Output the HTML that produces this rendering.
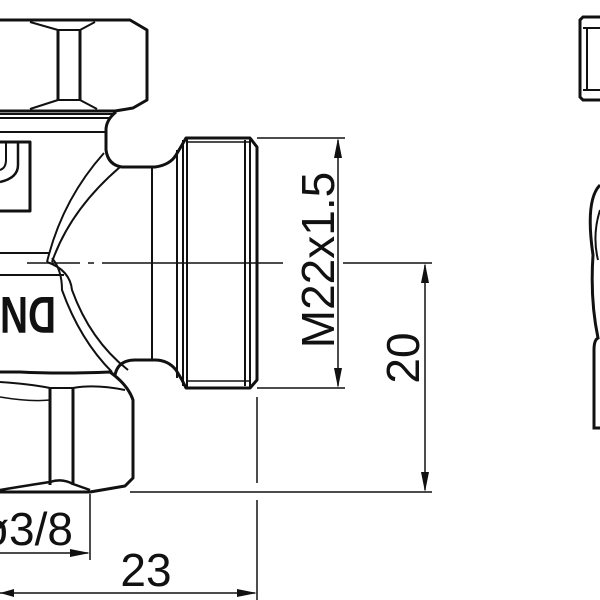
<!DOCTYPE html>
<html><head><meta charset="utf-8"><style>html,body{margin:0;padding:0;background:#fff}svg{display:block}</style></head>
<body>
<svg width="600" height="600" viewBox="0 0 600 600" xmlns="http://www.w3.org/2000/svg" font-family="Liberation Sans, sans-serif">
<g fill="none" stroke="#111" stroke-width="3" stroke-linejoin="round">
<!-- top nut -->
<path d="M0 20 L130 20 L147 30 L147 100 L133 108 L115 111 L0 111"/>
<path d="M30 22 L58 30 L80 30 L95 22" stroke-width="2"/>
<path d="M30 109 L58 100 L80 100 L97 109" stroke-width="2"/>
<line x1="58" y1="30" x2="58" y2="100"/><line x1="80" y1="30" x2="80" y2="100"/>
<line x1="0" y1="114" x2="114" y2="114" stroke-width="2"/>
<line x1="0" y1="118" x2="110" y2="118" stroke-width="2"/>
<line x1="0" y1="132" x2="105" y2="132" stroke-width="2"/>
<!-- body top -->
<path d="M116 112 Q106 120 106 130 L106 150 Q108 165 122 167 L155 167 Q170 165 176 155 L182 145 L186 138 L250 138 L257 147 L257 380 L250 388 L186 388 L182 380 L176 370 Q168 360 155 360 L135 360 Q118 360 115 375"/>
<line x1="152" y1="168" x2="152" y2="360" stroke-width="2"/>
<line x1="177" y1="150" x2="177" y2="378" stroke-width="2"/>
<line x1="183" y1="140" x2="183" y2="386" stroke-width="2"/>
<line x1="187" y1="138" x2="187" y2="388" stroke-width="2"/>
<line x1="245" y1="140" x2="245" y2="386" stroke-width="2"/>
<line x1="250" y1="138" x2="250" y2="388" stroke-width="2"/>
<line x1="187" y1="142" x2="250" y2="142" stroke-width="1.5"/>
<line x1="187" y1="381" x2="250" y2="381" stroke-width="1.5"/>
<!-- diagonal body curves -->
<path d="M104 153 Q62 200 47 262" stroke-width="2"/>
<path d="M120 167 Q70 210 52 262" stroke-width="2"/>
<path d="M47 262 Q70 270 72 290 Q90 340 128 370" stroke-width="2"/>
<path d="M52 258 Q62 270 62 290 Q80 340 112 372" stroke-width="2"/>
<line x1="0" y1="253" x2="50" y2="253" stroke-width="2"/>
<line x1="0" y1="275" x2="64" y2="275" stroke-width="2"/>
<!-- icon -->
<path d="M0 142 L30 142 L30 211 L0 211" stroke-width="3"/>
<path d="M18 143 L18 165 Q18 178 0 182" stroke-width="2.5"/>
<path d="M6 143 L6 160 Q6 168 0 170" stroke-width="2"/>
<!-- bottom nut -->
<path d="M0 372 L20 372 Q60 374 110 372 Q128 385 133 400 L133 478 L125 486 L90 492 L0 492"/>
<path d="M0 382 Q30 384 50 388 L73 388 Q95 384 125 390" stroke-width="2"/>
<path d="M0 397 Q30 402 50 400" stroke-width="1.5"/>
<line x1="50" y1="388" x2="50" y2="485"/><line x1="73" y1="388" x2="73" y2="485"/>
<path d="M0 490 Q30 485 50 482 Q62 478 73 484 L90 490" stroke-width="2.5"/>
</g>
<!-- DN -->
<text x="0" y="347" font-size="52" font-weight="bold" fill="#111" transform="rotate(180 28 322)" textLength="56" lengthAdjust="spacingAndGlyphs">DN</text>
<!-- centre line -->
<g stroke="#111" stroke-width="1.5" fill="none">
<line x1="27" y1="263" x2="80" y2="263"/>
<line x1="88" y1="263" x2="94" y2="263"/>
<line x1="102" y1="263" x2="283" y2="263"/>
<line x1="343" y1="263" x2="432" y2="263"/>
<line x1="257" y1="138" x2="345" y2="138"/>
<line x1="257" y1="388" x2="345" y2="388"/>
<line x1="338" y1="140" x2="338" y2="386"/>
<line x1="425" y1="265" x2="425" y2="490"/>
<line x1="130" y1="492" x2="432" y2="492"/>
<line x1="257" y1="397" x2="257" y2="483"/>
<line x1="257" y1="500" x2="257" y2="600"/>
<line x1="90" y1="494" x2="90" y2="560"/>
<line x1="0" y1="553" x2="88" y2="553"/>
<line x1="0" y1="593" x2="255" y2="593"/>
</g>
<g fill="#111">
<path d="M338 138 L334 158 L342 158Z"/><path d="M338 388 L334 368 L342 368Z"/>
<path d="M425 263 L421 283 L429 283Z"/><path d="M425 492 L421 472 L429 472Z"/>
<path d="M90 553 L70 549 L70 557Z"/><path d="M257 593 L237 589 L237 597Z"/>
<path d="M0 593 L14 589 L14 597Z"/>
</g>
<g fill="#111" font-size="46">
<text transform="translate(334 260) rotate(-90)" text-anchor="middle">M22x1.5</text>
<text transform="translate(419 358) rotate(-90)" text-anchor="middle">20</text>
<text x="146" y="586" text-anchor="middle">23</text>
<text x="73" y="545" text-anchor="end">ø3/8</text>
</g>
<!-- right side view -->
<g fill="none" stroke="#111" stroke-width="3">
<path d="M600 17 L583 17 L580 20 L580 97 L583 100 L600 100"/>
<line x1="587" y1="28" x2="587" y2="90" stroke-width="2"/>
<line x1="583" y1="28" x2="600" y2="28" stroke-width="2"/>
<line x1="583" y1="90" x2="600" y2="90" stroke-width="2"/>
<path d="M600 185 Q585 200 593 255 Q590 300 598 338 Q594 340 594 350 L594 428 L600 428"/>
<path d="M600 210 Q592 235 598 260" stroke-width="2"/>
</g>
</svg>
</body></html>
